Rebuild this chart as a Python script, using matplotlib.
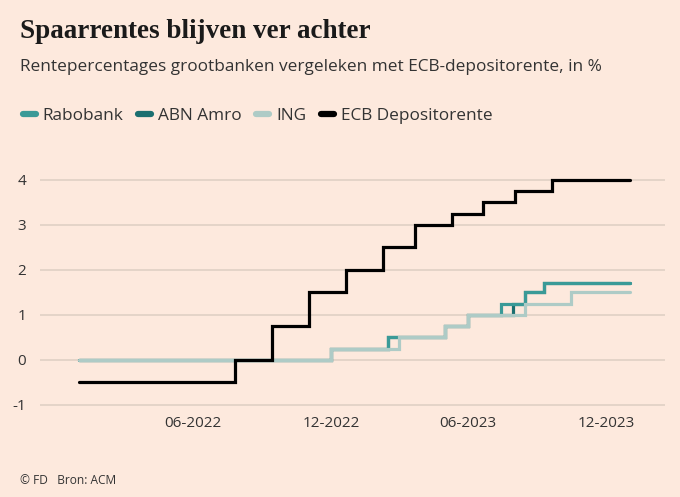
import matplotlib
matplotlib.use("Agg")
import matplotlib.pyplot as plt
from matplotlib.lines import Line2D
import numpy as np

# Data
rabo_dates = ["2022-01-01", "2022-12-01", "2023-02-14", "2023-05-01", "2023-06-01",
              "2023-07-15", "2023-08-15", "2023-09-10", "2024-01-01"]
rabo_rates = [0, 0.25, 0.5, 0.75, 1.0, 1.25, 1.5, 1.7, 1.7]

abn_dates = ["2022-01-01", "2022-12-01", "2023-02-14", "2023-05-01", "2023-06-01",
             "2023-07-31", "2023-08-15", "2023-09-10", "2024-01-01"]
abn_rates = [0, 0.25, 0.5, 0.75, 1.0, 1.25, 1.5, 1.7, 1.7]

ing_dates = ["2022-01-01", "2022-12-01", "2023-03-01", "2023-05-01", "2023-06-01",
             "2023-08-15", "2023-10-15", "2024-01-01"]
ing_rates = [0, 0.25, 0.5, 0.75, 1.0, 1.25, 1.5, 1.5]

ecb_dates = ["2022-01-01", "2022-07-27", "2022-09-14", "2022-11-02", "2022-12-21",
             "2023-02-08", "2023-03-22", "2023-05-10", "2023-06-21", "2023-08-02",
             "2023-09-20", "2024-01-01"]
ecb_rates = [-0.5, 0, 0.75, 1.5, 2.0, 2.5, 3.0, 3.25, 3.5, 3.75, 4.0, 4.0]

x_ticks = ["2022-06-01", "2022-12-01", "2023-06-01", "2023-12-01"]
x_tick_labels = ["06-2022", "12-2022", "06-2023", "12-2023"]
y_ticks = [-1, 0, 1, 2, 3, 4]

series = [
    ("ABN Amro", abn_dates, abn_rates, "#1b6f70"),
    ("Rabobank", rabo_dates, rabo_rates, "#3a9a97"),
    ("ING", ing_dates, ing_rates, "#aecbc6"),
    ("ECB Depositorente", ecb_dates, ecb_rates, "#000000"),
]
legend_order = ["Rabobank", "ABN Amro", "ING", "ECB Depositorente"]

bg = "#fde9dd"
text_color = "#333333"
sans = ["Open Sans", "DejaVu Sans"]

fig = plt.figure(figsize=(6.8, 4.97), dpi=100, facecolor=bg)
ax = fig.add_axes([40 / 680, 0.1806, 625 / 680, 0.4618], facecolor=bg)

for name, d, v, c in series:
    ax.plot(np.array(d, dtype="datetime64[D]"), v, drawstyle="steps-post",
            color=c, lw=2.3, solid_capstyle="round", solid_joinstyle="miter")

ax.set_xlim(np.datetime64("2021-11-10"), np.datetime64("2024-02-17"))
ax.set_ylim(-1.05, 4.05)
ax.set_xticks(np.array(x_ticks, dtype="datetime64[D]"))
ax.set_xticklabels(x_tick_labels)
ax.set_yticks(y_ticks)
ax.set_yticklabels([str(t) for t in y_ticks])
ax.grid(axis="y", color="#e2d2c6", lw=1.3)
ax.set_axisbelow(True)
for s in ax.spines.values():
    s.set_visible(False)
ax.tick_params(length=0, labelsize=11, labelcolor=text_color)
ax.tick_params(axis="y", pad=10)
ax.tick_params(axis="x", pad=6)
for lab in ax.get_xticklabels() + ax.get_yticklabels():
    lab.set_family(sans)

fig.text(20 / 680, 1 - 31 / 497, "Spaarrentes blijven ver achter", family="Liberation Serif",
         weight="bold", fontsize=19.5, color="#1a1a1a", va="center", ha="left")
fig.text(20 / 680, 1 - 67 / 497,
         "Rentepercentages grootbanken vergeleken met ECB-depositorente, in %",
         family=sans, fontsize=12.4, color=text_color, va="center", ha="left")

colors = {n: c for n, _, _, c in series}
handles = [Line2D([], [], color=colors[n], lw=4.5, solid_capstyle="round") for n in legend_order]
leg = fig.legend(handles, legend_order, loc="center left",
                 bbox_to_anchor=(23 / 680, 1 - 116 / 497), ncol=4, frameon=False,
                 borderpad=0, borderaxespad=0,
                 handlelength=0.75, handletextpad=0.4, columnspacing=0.85,
                 prop={"family": sans, "size": 12.4})
for t in leg.get_texts():
    t.set_color(text_color)

fig.text(20 / 680, 1 - 481 / 497, "\u00a9 FD   Bron: ACM", family=sans, fontsize=8.6,
         color=text_color, va="center", ha="left")

fig.savefig("out.png", dpi=100, facecolor=bg)
